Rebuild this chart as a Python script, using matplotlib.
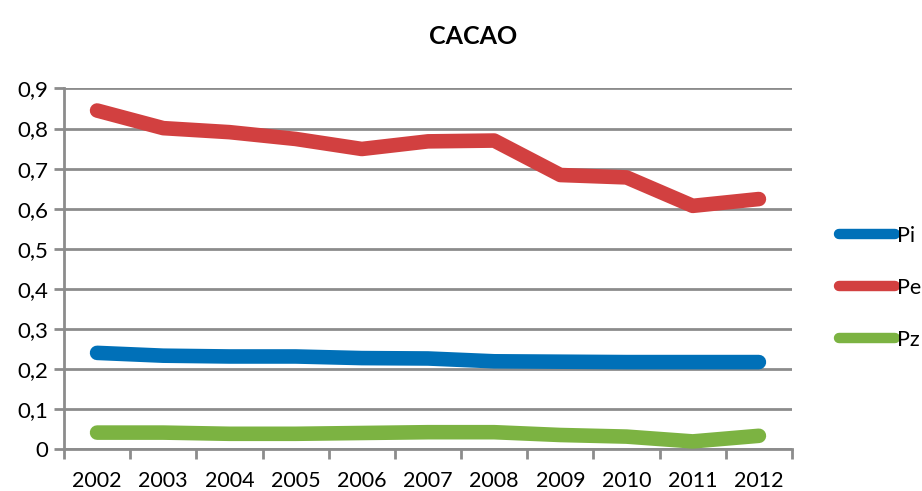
import matplotlib.pyplot as plt
from matplotlib.lines import Line2D
from matplotlib.ticker import FixedLocator, FuncFormatter

# data
years = ["2002", "2003", "2004", "2005", "2006", "2007",
         "2008", "2009", "2010", "2011", "2012"]
pi = [0.240, 0.233, 0.231, 0.231, 0.227, 0.226, 0.219, 0.218, 0.217, 0.217, 0.217]
pe = [0.845, 0.801, 0.791, 0.774, 0.749, 0.768, 0.770, 0.684, 0.678, 0.607, 0.624]
pz = [0.041, 0.041, 0.038, 0.038, 0.040, 0.042, 0.042, 0.035, 0.031, 0.019, 0.033]

series = [("Pi", pi, "#0070b8"), ("Pe", pe, "#d24040"), ("Pz", pz, "#7cb342")]
grid_col = "#8c8c8c"

plt.rcParams["font.family"] = ["Lato", "DejaVu Sans"]

fig = plt.figure(figsize=(9.22, 4.91), dpi=100)
ax = fig.add_axes([0.0694, 0.0855, 0.7896, 0.7343])

x = list(range(len(years)))
for name, vals, col in series:
    ax.plot(x, vals, color=col, lw=10.5, solid_capstyle="round",
            solid_joinstyle="round", zorder=3)

ax.set_xlim(-0.5, len(years) - 0.5)
ax.set_ylim(0, 0.9)
ax.set_yticks([i / 10 for i in range(10)])
ax.yaxis.set_major_formatter(FuncFormatter(
    lambda v, _: "0" if v == 0 else f"{v:.1f}".replace(".", ",")))
ax.yaxis.grid(True, color=grid_col, lw=2)
ax.set_axisbelow(True)

# x labels at category centres, tick marks on the boundaries
ax.set_xticks(x)
ax.set_xticklabels(years)
ax.xaxis.set_minor_locator(FixedLocator([i - 0.5 for i in range(len(years) + 1)]))
ax.tick_params(axis="x", which="major", length=0, pad=16, labelsize=15.5)
ax.tick_params(axis="x", which="minor", length=7, width=2, color=grid_col)
ax.tick_params(axis="y", length=7, width=2, color=grid_col, labelsize=16, pad=4)

for s in ["top", "right"]:
    ax.spines[s].set_visible(False)
for s in ["left", "bottom"]:
    ax.spines[s].set_color(grid_col)
    ax.spines[s].set_linewidth(2)

ax.set_title("CACAO", fontsize=18, fontweight="bold", pad=32, x=0.562)

handles = [Line2D([], [], color=c, lw=7.5, solid_capstyle="round") for _, _, c in series]
fig.legend(handles, [n for n, _, _ in series], loc="upper left",
           bbox_to_anchor=(0.898, 0.562), frameon=False, fontsize=15.5,
           handlelength=2.6, handletextpad=0.1, labelspacing=1.48,
           borderpad=0)

fig.savefig("out.png", dpi=100)
